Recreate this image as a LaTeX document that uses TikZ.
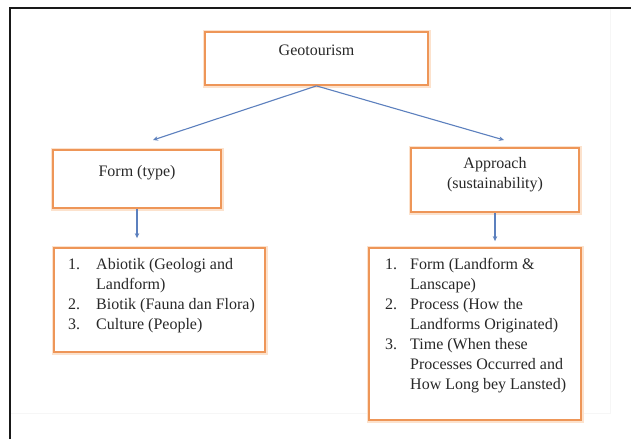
\documentclass[tikz,border=0pt]{standalone}
\usepackage{fontspec}
\setmainfont{Liberation Serif}
\usetikzlibrary{arrows.meta}
\definecolor{boxorange}{RGB}{238,150,88}
\definecolor{glow}{RGB}{252,226,205}
\definecolor{arrowblue}{RGB}{92,128,190}
\definecolor{txt}{RGB}{40,40,40}
\definecolor{framec}{RGB}{25,25,25}
\begin{document}
\begin{tikzpicture}[x=1pt,y=-1pt,
  box/.style={draw=boxorange,line width=1.8pt,fill=white,
    inner sep=0pt,minimum width=#1},
  boxglow/.style={preaction={draw=glow,line width=5pt}},
  lbl/.style={text=txt,font=\fontsize{16}{20}\selectfont,inner sep=0pt,align=center},
  listtxt/.style={text=txt,font=\fontsize{16}{20}\selectfont,inner sep=0pt,anchor=north west},
  conn/.style={draw=arrowblue,line width=1.1pt,-{Stealth[length=5pt,width=4.5pt]}}
]
\useasboundingbox (0,0) rectangle (631,439);
\fill[white] (0,0) rectangle (631,439);
% frame
\draw[gray!7,line width=1pt] (610,8) -- (610,413) -- (10,413);
\draw[framec,line width=2.4pt] (10,439) -- (10,8) -- (631,8);
% boxes
\node[box=223pt,minimum height=53pt,boxglow] (geo) at (316.5,58.5) {};
\node[box=168pt,minimum height=58pt,boxglow] (form) at (137,179) {};
\node[box=168pt,minimum height=64pt,boxglow] (appr) at (495,180) {};
\node[box=211pt,minimum height=104pt,boxglow] (listL) at (159.5,300) {};
\node[box=212pt,minimum height=172pt,boxglow] (listR) at (475,334) {};
% texts
\node[lbl] (geotxt) at (316.5,50) {Geotourism};
\node[lbl] (formtxt) at (137,173) {Form (type)};
\node[lbl] (apprtxt) at (495,175) {Approach\\(sustainability)};
\node[listtxt] (listLtxt) at (68,255) {%
  \begin{tabular}{@{}p{28pt}@{}l@{}}
  1. & Abiotik (Geologi and\\
     & Landform)\\
  2. & Biotik (Fauna dan Flora)\\
  3. & Culture (People)
  \end{tabular}};
\node[listtxt] (listRtxt) at (385,255) {%
  \begin{tabular}{@{}p{25pt}@{}l@{}}
  1. & Form (Landform \&\\
     & Lanscape)\\
  2. & Process (How the\\
     & Landforms Originated)\\
  3. & Time (When these\\
     & Processes Occurred and\\
     & How Long bey Lansted)
  \end{tabular}};
% connectors
\coordinate (tipL) at (153,140);
\coordinate (tipR) at (504,140);
\draw[conn] (geo.south) -- (tipL);
\draw[conn] (geo.south) -- (tipR);
\draw[conn,shorten >=9pt] (form.south) -- (form.south |- listL.north);
\draw[conn,shorten >=6pt] (appr.south) -- (appr.south |- listR.north);
\end{tikzpicture}
\end{document}
